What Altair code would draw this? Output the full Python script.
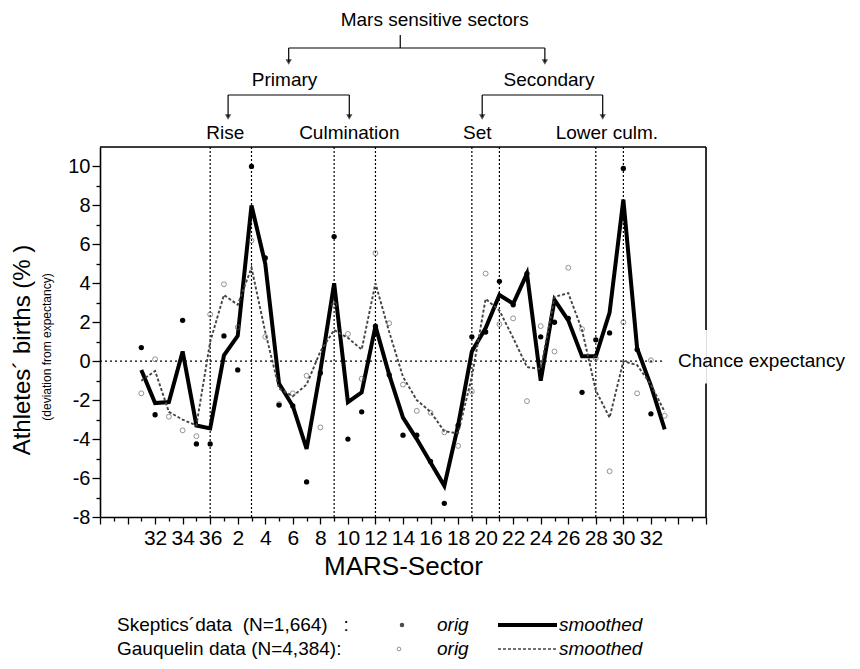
import altair as alt
import pandas as pd

# ---------------- data ----------------
# linear sector index t: sector = t (1..35), t<=0 -> t+36 (36, 34, 32 ...)
t_vals = list(range(-5, 34))
skeptics_orig = [0.7, -2.75, None, 2.1, -4.25, -4.25, 1.3, -0.45, 10.0, 5.3,
                 -2.25, -2.3, -6.2, -0.6, 6.4, -4.0, -2.6, 1.8, -0.7, -3.8,
                 -3.8, -5.15, -7.3, -3.3, 1.25, 1.5, 4.1, 2.9, 4.5, 1.25,
                 2.0, 2.2, -1.6, 1.1, 1.45, 9.9, 0.6, -2.7, None]
skeptics_smooth = [-0.45, -2.15, -2.1, 0.5, -3.3, -3.45, 0.3, 1.3, 8.0, 5.0,
                   -1.15, -2.3, -4.5, -0.5, 4.0, -2.1, -1.6, 1.8, -0.7, -2.9,
                   -4.0, -5.2, -6.4, -3.3, 0.5, 1.7, 3.4, 2.95, 4.5, -1.0,
                   3.15, 2.1, 0.25, 0.25, 2.5, 8.3, 0.65, -1.25, -3.5]
gauq_orig = [-1.65, 0.1, -2.85, -3.55, -3.85, 2.4, 3.95, 1.75, 6.2, 1.25,
             -2.2, -1.65, -0.75, -3.4, 2.9, 1.4, -0.9, 5.55, 1.95, -1.2,
             -2.55, -2.65, -3.65, -4.35, -1.55, 4.5, 1.9, 2.2, -2.05, 1.8,
             0.5, 4.8, 1.65, 0.15, -5.65, 2.0, -1.65, 0.05, -2.8]
gauq_smooth = [-1.0, -0.5, -2.6, -3.0, -3.3, 1.0, 3.4, 2.9, 4.8, 1.5,
               -1.4, -1.8, -1.2, 0.5, 1.6, 1.2, 0.6, 4.0, 1.5, -0.8,
               -2.0, -2.6, -3.6, -3.7, -0.8, 3.2, 2.6, 1.2, -0.3, -0.4,
               3.3, 3.5, 1.6, -1.5, -2.9, 0.0, -0.2, -1.2, -2.6]

sensitive_bounds = [0, 3, 9, 12, 19, 21, 28, 30]

tree_text = ["Mars sensitive sectors", "Primary", "Secondary",
             "Rise", "Culmination", "Set", "Lower culm."]
tree_text_t = [16.3, 5.4, 24.6, 1.1, 10.1, 19.4, 28.8]
tree_text_level = [0, 1, 1, 2, 2, 2, 2]
branch_from = [5.7, 1.3, 19.75]
branch_to = [24.3, 10.1, 28.5]
branch_level = [0, 1, 1]

legend_labels = ["Skeptics\u00b4data\u00a0\u00a0(N=1,664)\u00a0\u00a0\u00a0:",
                 "Gauquelin data (N=4,384):"]

# ---------------- layout ----------------
W, H = 606, 370
FONT = "Liberation Sans"
level_text_y = [-127, -67, -14]
level_bar_y = [-99, -52]
level_tip_y = [-85, -30]

df = pd.DataFrame({"t": t_vals, "so": skeptics_orig, "ss": skeptics_smooth,
                   "go": gauq_orig, "gs": gauq_smooth})

xs = alt.Scale(domain=[-8, 36], nice=False, zero=False)
ys = alt.Scale(domain=[-8, 11], nice=False, zero=False)

x_axis = alt.Axis(
    values=list(range(-8, 37)),
    labelExpr="(datum.value < -4 || datum.value > 32 || datum.value % 2 != 0) ? '' : (datum.value <= 0 ? datum.value + 36 : datum.value)",
    tickSize={"condition": {"test": "datum.value % 2 == 0", "value": 7}, "value": 4},
    tickColor="black", tickWidth=1.3, domainColor="black", domainWidth=1.6,
    labelFont=FONT, labelFontSize=21, labelColor="black", labelPadding=3,
    labelOverlap=False, labelFlush=False, labelBound=False, grid=False,
    title="MARS-Sector", titleFont=FONT, titleFontSize=26, titleFontWeight="normal",
    titleColor="black", titlePadding=5,
)
y_axis = alt.Axis(
    values=list(range(-8, 11)),
    labelExpr="datum.value % 2 == 0 ? datum.value : ''",
    tickSize={"condition": {"test": "datum.value % 2 == 0", "value": 8}, "value": 4},
    tickColor="black", tickWidth=1.3, domainColor="black", domainWidth=1.6,
    labelFont=FONT, labelFontSize=20, labelColor="black", labelPadding=2,
    labelOverlap=False, labelBound=False, grid=False, title=None,
)


def X(f):
    return alt.X(f, type="quantitative", scale=xs, axis=x_axis)


def Y(f):
    return alt.Y(f, type="quantitative", scale=ys, axis=y_axis)


def PX(f):
    return alt.X(f, type="quantitative", scale=None)


def PY(f):
    return alt.Y(f, type="quantitative", scale=None)


base = alt.Chart(df)

vlines = alt.Chart(pd.DataFrame({"t": sensitive_bounds})).mark_rule(
    color="black", strokeDash=[2, 2], strokeWidth=1.2
).encode(x=X("t"), y=alt.value(0), y2=alt.value(H))

zero_line = alt.Chart(pd.DataFrame({"a": [0]})).mark_rule(
    color="black", strokeDash=[2, 3], strokeWidth=1.2
).encode(x=alt.datum(-8, scale=xs, axis=x_axis), x2=alt.datum(33),
         y=alt.datum(0, scale=ys, axis=y_axis))

frame = alt.Chart(pd.DataFrame({"a": [0]}))
top_edge = frame.mark_rule(color="black", strokeWidth=1.6).encode(
    x=alt.value(0), x2=alt.value(W), y=alt.value(0))
right_a = frame.mark_rule(color="black", strokeWidth=1.6).encode(
    x=alt.value(W), y=alt.datum(11, scale=ys, axis=y_axis), y2=alt.datum(1.6))
right_b = frame.mark_rule(color="black", strokeWidth=1.6).encode(
    x=alt.value(W), y=alt.datum(-1.15, scale=ys, axis=y_axis), y2=alt.datum(-8))

g_line = base.mark_line(color="#444444", strokeWidth=1.9, strokeDash=[3, 2]).encode(
    x=X("t"), y=Y("gs"))
s_line = base.mark_line(color="black", strokeWidth=4, strokeJoin="miter").encode(
    x=X("t"), y=Y("ss"))
g_pts = base.mark_point(shape="circle", filled=False, color="#666666", size=24,
                        strokeWidth=1).encode(x=X("t"), y=Y("go"))
s_pts = base.mark_point(shape="circle", filled=True, color="black", size=28,
                        opacity=1).encode(x=X("t"), y=Y("so"))

# annotation tree
tree_df = pd.DataFrame({"label": tree_text, "t": tree_text_t,
                        "py": [level_text_y[l] for l in tree_text_level]})
tree_labels = alt.Chart(tree_df).mark_text(
    font=FONT, fontSize=19, color="black", baseline="middle", align="center"
).encode(x=X("t"), y=PY("py"), text="label:N")

br_df = pd.DataFrame({"t1": branch_from, "t2": branch_to,
                      "py": [level_bar_y[l] for l in branch_level]})
br_h = alt.Chart(br_df).mark_rule(color="black", strokeWidth=1.2).encode(
    x=X("t1"), x2="t2:Q", y=PY("py"))
tips = []
for a, b, l in zip(branch_from, branch_to, branch_level):
    tips += [(a, level_bar_y[l], level_tip_y[l]), (b, level_bar_y[l], level_tip_y[l])]
tip_df = pd.DataFrame(tips, columns=["t", "y1", "y2"])
br_v = alt.Chart(tip_df).mark_rule(color="black", strokeWidth=1.2).encode(
    x=X("t"), y=PY("y1"), y2="y2:Q")
br_head = alt.Chart(tip_df).mark_point(shape="triangle-down", filled=True,
                                       color="black", size=40).encode(
    x=X("t"), y=PY("y2"))
stub = alt.Chart(pd.DataFrame({"t": [13.8], "y1": [-112], "y2": [level_bar_y[0]]})).mark_rule(
    color="black", strokeWidth=1.2).encode(x=X("t"), y=PY("y1"), y2="y2:Q")

chance = alt.Chart(pd.DataFrame({"txt": ["Chance expectancy"]})).mark_text(
    font=FONT, fontSize=19, color="black", align="left", baseline="middle"
).encode(x=alt.value(578), y=alt.datum(0, scale=ys, axis=y_axis), text="txt:N")

# y titles
ytitle = alt.Chart(pd.DataFrame({"txt": ["Athletes\u00b4 births (% )"]})).mark_text(
    font=FONT, fontSize=24, color="black", angle=270, align="center", baseline="middle"
).encode(x=alt.value(-77), y=alt.value(203), text="txt:N")
ysub = alt.Chart(pd.DataFrame({"txt": ["(deviation from expectancy)"]})).mark_text(
    font=FONT, fontSize=12, color="black", angle=270, align="center", baseline="middle"
).encode(x=alt.value(-53), y=alt.value(200), text="txt:N")

# legend
LY1, LY2 = 478, 502
leg_txt = alt.Chart(pd.DataFrame({
    "txt": legend_labels, "px": [17, 17], "py": [LY1, LY2]})).mark_text(
    font=FONT, fontSize=19, color="black", align="left", baseline="middle"
).encode(x=PX("px"), y=PY("py"), text="txt:N")
leg_it = alt.Chart(pd.DataFrame({
    "txt": ["orig", "smoothed", "orig", "smoothed"],
    "px": [337, 459, 337, 459], "py": [LY1, LY1, LY2, LY2]})).mark_text(
    font=FONT, fontSize=19, fontStyle="italic", color="black", align="left", baseline="middle"
).encode(x=PX("px"), y=PY("py"), text="txt:N")
leg_dot = alt.Chart(pd.DataFrame({"px": [302], "py": [LY1]})).mark_point(
    shape="circle", filled=True, color="black", size=20).encode(x=PX("px"), y=PY("py"))
leg_circ = alt.Chart(pd.DataFrame({"px": [299], "py": [LY2]})).mark_point(
    shape="circle", filled=False, color="#666666", size=14, strokeWidth=1).encode(
    x=PX("px"), y=PY("py"))
leg_l1 = alt.Chart(pd.DataFrame({"a": [0]})).mark_rule(color="black", strokeWidth=4).encode(
    x=alt.value(398), x2=alt.value(457), y=alt.value(LY1))
leg_l2 = alt.Chart(pd.DataFrame({"a": [0]})).mark_rule(
    color="#444444", strokeWidth=1.6, strokeDash=[3, 2]).encode(
    x=alt.value(398), x2=alt.value(457), y=alt.value(LY2))

chart = alt.layer(
    s_line, vlines, zero_line, top_edge, right_a, right_b,
    g_line, g_pts, s_pts,
    tree_labels, br_h, br_v, br_head, stub, chance, ytitle, ysub,
    leg_txt, leg_it, leg_dot, leg_circ, leg_l1, leg_l2,
).properties(
    width=W, height=H,
    autosize=alt.AutoSizeParams(type="none"),
    padding={"left": 92, "top": 139, "right": 146, "bottom": 144},
).configure_view(stroke=None).configure_axis(labelOverlap=False).configure(background="white")

chart.save("out.html", embed_options={"renderer": "svg", "actions": False})
